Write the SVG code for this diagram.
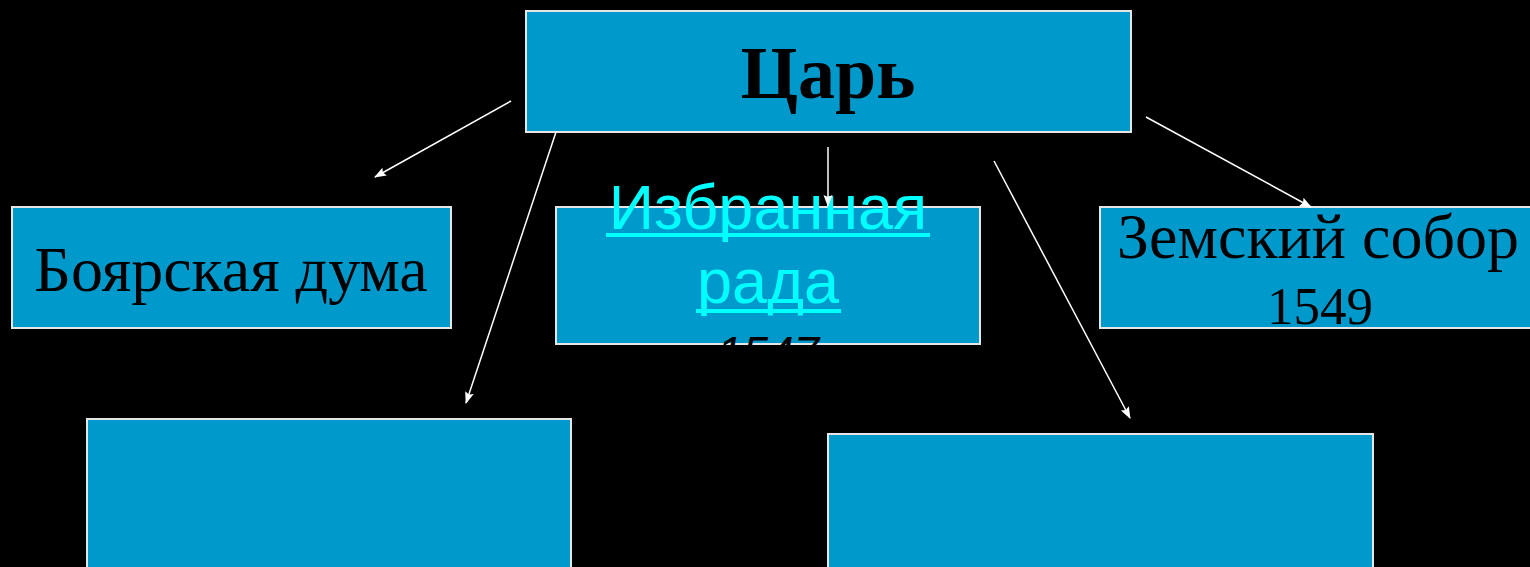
<svg xmlns="http://www.w3.org/2000/svg" width="1530" height="567" viewBox="0 0 1530 567">
<defs>
<style>
.box{fill:#0099CC;stroke:#E6E6E6;stroke-width:2}
.serif{font-family:"Liberation Serif","Times New Roman",serif;fill:#000}
.link{font-family:"Liberation Sans",Arial,sans-serif;fill:#00FFFF}
.uline{fill:#00FFFF}
.conn{stroke:#FFFFFF;stroke-width:1.5;fill:none;marker-end:url(#arr)}
</style>
<marker id="arr" viewBox="0 0 12 10" refX="11" refY="5" markerWidth="13" markerHeight="10" markerUnits="userSpaceOnUse" orient="auto">
<path d="M0,0.5 L12,5 L0,9.5 L2,5 z" fill="#FFFFFF"/>
</marker>
</defs>
<rect width="1530" height="567" fill="#000"/>
<g id="tsar">
<rect class="box" x="526" y="11" width="605" height="121"/>
<text class="serif" x="828" y="98" text-anchor="middle" font-size="74" font-weight="bold">Царь</text>
</g>
<g id="boyar-duma">
<rect class="box" x="12" y="207" width="439" height="121"/>
<text class="serif" x="231" y="291" text-anchor="middle" font-size="64">Боярская дума</text>
</g>
<g id="izbrannaya-rada">
<rect class="box" x="556" y="207" width="424" height="137"/>
<text class="link" x="768" y="229" text-anchor="middle" font-size="63">Избранная</text>
<rect class="uline" x="606" y="233" width="324" height="4"/>
<text class="link" x="768" y="303" text-anchor="middle" font-size="63">рада</text>
<rect class="uline" x="696" y="309" width="145" height="4"/>
<text x="768" y="369" text-anchor="middle" font-size="46" font-style="italic" font-family="Liberation Sans, Arial, sans-serif" fill="#000">1547</text>
</g>
<g id="zemsky-sobor">
<rect class="box" x="1100" y="207" width="440" height="121"/>
<text class="serif" x="1318" y="258" text-anchor="middle" font-size="64">Земский собор</text>
<text class="serif" x="1320" y="324" text-anchor="middle" font-size="53">1549</text>
</g>
<g id="bottom-left">
<rect class="box" x="87" y="419" width="484" height="160"/>
</g>
<g id="bottom-right">
<rect class="box" x="828" y="434" width="545" height="145"/>
</g>
<g id="connectors">
<line class="conn" x1="511" y1="101" x2="375" y2="177"/>
<line class="conn" x1="556" y1="132" x2="466" y2="403"/>
<line class="conn" x1="828" y1="147" x2="828" y2="206"/>
<line class="conn" x1="994" y1="161" x2="1130" y2="418"/>
<line class="conn" x1="1146" y1="117" x2="1311" y2="207"/>
</g>
</svg>
